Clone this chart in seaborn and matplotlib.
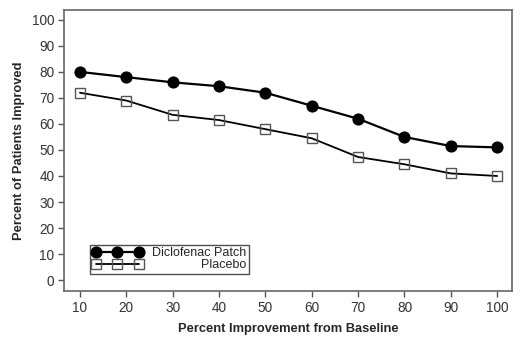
import matplotlib
matplotlib.use("Agg")
import matplotlib.pyplot as plt
import seaborn as sns
import pandas as pd

improvement = [10, 20, 30, 40, 50, 60, 70, 80, 90, 100]
diclofenac = [80, 78, 76, 74.5, 72, 67, 62, 55, 51.5, 51]
placebo = [72, 69, 63.5, 61.5, 58, 54.5, 47.3, 44.5, 41, 40]
series_names = ["Diclofenac Patch", "Placebo"]
x_ticks = [10, 20, 30, 40, 50, 60, 70, 80, 90, 100]
y_ticks = [0, 10, 20, 30, 40, 50, 60, 70, 80, 90, 100]

sns.set_theme(style="white")
plt.rcParams["font.family"] = ["Liberation Sans", "DejaVu Sans"]

df = pd.DataFrame({
    "x": improvement * 2,
    "y": diclofenac + placebo,
    "series": [series_names[0]] * len(improvement) + [series_names[1]] * len(improvement),
})

fig = plt.figure(figsize=(5.23, 3.41), dpi=100)
ax = fig.add_axes([64/523, 50/341, 448/523, 281/341])

sns.lineplot(data=df[df.series == series_names[0]], x="x", y="y", ax=ax,
             color="black", lw=1.6, marker="o", markersize=8,
             markerfacecolor="black", markeredgecolor="black", legend=False)
sns.lineplot(data=df[df.series == series_names[1]], x="x", y="y", ax=ax,
             color="black", lw=1.3, marker="s", markersize=6.5,
             markerfacecolor="none", markeredgecolor="#555555", markeredgewidth=1.0,
             legend=False)

ax.set_xlim(6.55, 103.2)
ax.set_ylim(-4.2, 103.8)
ax.set_xticks(x_ticks)
ax.set_yticks(y_ticks)
ax.tick_params(axis="both", direction="out", length=4, width=1, color="#555555",
               labelsize=9.8, colors="#333333", bottom=True, left=True, pad=3)
for sp in ax.spines.values():
    sp.set_color("#666666")
    sp.set_linewidth(1.2)

ax.set_xlabel("Percent Improvement from Baseline", fontsize=9.3, fontweight="bold", labelpad=6)
ax.set_ylabel("Percent of Patients Improved", fontsize=9.3, fontweight="bold", labelpad=5)

lines = ax.get_lines()
leg = ax.legend(lines[:2], series_names, loc="lower left", bbox_to_anchor=(0.058, 0.062),
                numpoints=3, handlelength=4.0, frameon=True, fancybox=False,
                edgecolor="#222222", borderpad=0.2, labelspacing=0.0,
                handletextpad=0.8, borderaxespad=0,
                prop={"family": ["Liberation Sans"], "size": 9.0})
leg.get_frame().set_linewidth(1.0)

fig.canvas.draw()
renderer = fig.canvas.get_renderer()
widths = [t.get_window_extent(renderer).width for t in leg.get_texts()]
wmax = max(widths)
for t, w in zip(leg.get_texts(), widths):
    t.set_position((wmax - w, 0))

fig.savefig("out.png", dpi=100)
